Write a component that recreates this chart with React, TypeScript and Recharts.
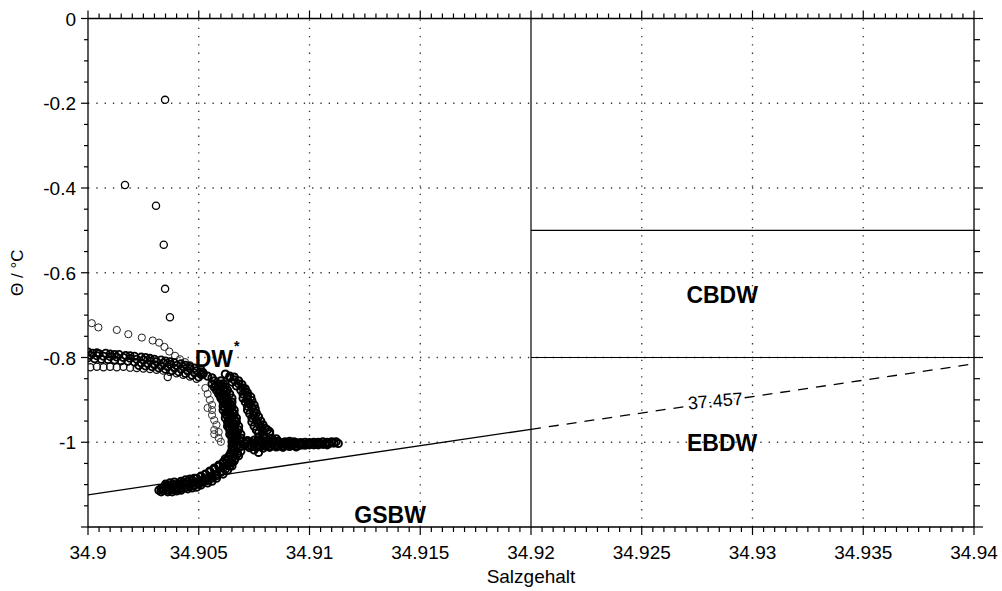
import { ScatterChart, Scatter, XAxis, YAxis, ReferenceLine } from 'recharts';

const FONT = '"Liberation Sans", Arial, Helvetica, sans-serif';

// axis ranges and ticks
const salDomain = [34.9, 34.94];
const thetaDomain = [-1.2, 0];
const salMinorStep = 0.0005;
const thetaMinorStep = 0.05;
const salGrid = [34.905, 34.91, 34.915, 34.925, 34.93, 34.935];
const thetaGrid = [-0.2, -0.4, -0.6, -0.8, -1.0];

// water mass boundaries
const boundaryX = 34.92;
const cbdwTop = -0.5;
const cbdwBottom = -0.8;
const isopycnalSolid = [
  [34.9, -1.124],
  [34.92, -0.9695],
];
const isopycnalDashed = [
  [34.92, -0.9695],
  [34.94, -0.815],
];

// scattered single profiles (upper left)
const isolatedPoints = [
  [34.90348, -0.192], [34.90167, -0.393], [34.90307, -0.442],
  [34.90342, -0.534], [34.90348, -0.638], [34.9037, -0.705],
];

const upperTrail = [
  [34.90017, -0.719], [34.90047, -0.729], [34.9013, -0.735], [34.90182, -0.745],
  [34.90243, -0.753], [34.90292, -0.76], [34.90321, -0.765], [34.90345, -0.775],
  [34.90367, -0.786], [34.90393, -0.796], [34.90415, -0.804], [34.90438, -0.811],
  [34.9046, -0.818],
];

// dense band around -0.8 degC
const bandRows = [
  [34.9, -0.787], [34.9002, -0.79], [34.9004, -0.789], [34.9005, -0.791], [34.9008, -0.79],
  [34.901, -0.792], [34.9012, -0.793], [34.9014, -0.793], [34.9017, -0.795], [34.9019, -0.796],
  [34.9021, -0.797], [34.9024, -0.799], [34.9026, -0.8], [34.9028, -0.802], [34.903, -0.804],
  [34.9033, -0.806], [34.9035, -0.808], [34.9037, -0.81], [34.9039, -0.812], [34.9042, -0.815],
  [34.9044, -0.818], [34.9046, -0.821], [34.9048, -0.825], [34.9051, -0.829],
  [34.9001, -0.795], [34.9004, -0.796], [34.9007, -0.797], [34.901, -0.798], [34.9013, -0.799],
  [34.9016, -0.8], [34.9019, -0.802], [34.9022, -0.804], [34.9025, -0.806], [34.9028, -0.808],
  [34.9031, -0.81], [34.9034, -0.813], [34.9037, -0.816], [34.904, -0.819], [34.9043, -0.822],
  [34.9046, -0.826], [34.9049, -0.831], [34.9052, -0.836],
  [34.9, -0.801], [34.9003, -0.803], [34.9006, -0.804], [34.9009, -0.805], [34.9012, -0.806],
  [34.9015, -0.808], [34.9018, -0.809], [34.9021, -0.811], [34.9024, -0.813], [34.9027, -0.815],
  [34.903, -0.817], [34.9033, -0.82], [34.9036, -0.822], [34.9039, -0.825], [34.9042, -0.828],
  [34.9045, -0.832], [34.9048, -0.836], [34.9051, -0.84],
  [34.9023, -0.819], [34.9026, -0.82], [34.9029, -0.822], [34.9032, -0.825], [34.9035, -0.828],
  [34.9038, -0.831], [34.9041, -0.834], [34.9044, -0.838], [34.9047, -0.842], [34.905, -0.846],
];

const bandLower = [
  [34.9001, -0.823], [34.9004, -0.822], [34.9007, -0.823], [34.901, -0.822], [34.9013, -0.823],
  [34.9016, -0.822], [34.9019, -0.824], [34.9022, -0.825], [34.9025, -0.826], [34.9028, -0.827],
  [34.9031, -0.829], [34.9034, -0.831], [34.9037, -0.834], [34.904, -0.837], [34.9043, -0.841],
  [34.9046, -0.845], [34.9049, -0.85], [34.9036, -0.846],
];

// main arm bending down to the GSBW line
const armA = [
  [34.9051, -0.834], [34.9052, -0.839], [34.9054, -0.844], [34.9056, -0.848], [34.9057, -0.855],
  [34.9059, -0.862], [34.906, -0.87], [34.9061, -0.877], [34.9061, -0.886], [34.9062, -0.896],
  [34.9063, -0.905], [34.9063, -0.915], [34.9064, -0.924], [34.9064, -0.933], [34.9065, -0.943],
  [34.9065, -0.952], [34.9065, -0.962], [34.9066, -0.971], [34.9066, -0.981], [34.9067, -0.99],
  [34.9067, -0.999], [34.9067, -1.009], [34.9066, -1.018], [34.9066, -1.028], [34.9065, -1.037],
  [34.9064, -1.047], [34.9063, -1.054], [34.9061, -1.061], [34.906, -1.068], [34.9058, -1.075],
  [34.9056, -1.08], [34.9054, -1.085], [34.9052, -1.089], [34.905, -1.094], [34.9048, -1.096],
  [34.9046, -1.099], [34.9044, -1.101], [34.9042, -1.104], [34.904, -1.106], [34.9037, -1.106],
  [34.9036, -1.108], [34.9034, -1.108], [34.9033, -1.11],
  [34.9056, -0.862], [34.9057, -0.87], [34.9058, -0.877], [34.9059, -0.886], [34.906, -0.896],
  [34.9061, -0.905], [34.9061, -0.915], [34.9061, -0.924], [34.9062, -0.933], [34.9062, -0.943],
  [34.9063, -0.952], [34.9063, -0.962], [34.9064, -0.971], [34.9064, -0.981], [34.9065, -0.99],
  [34.9065, -0.999], [34.9065, -1.009],
  [34.90578, -0.866], [34.90588, -0.874], [34.90598, -0.881], [34.90598, -0.891], [34.90608, -0.9],
  [34.90618, -0.91], [34.90618, -0.919], [34.90628, -0.929], [34.90628, -0.938], [34.90638, -0.947],
  [34.90638, -0.957], [34.90638, -0.966], [34.90648, -0.976], [34.90648, -0.985], [34.90658, -0.994],
  [34.90658, -1.004], [34.90658, -1.013],
  [34.90602, -0.866], [34.90612, -0.874], [34.90622, -0.881], [34.90622, -0.891], [34.90632, -0.9],
  [34.90642, -0.91], [34.90642, -0.919], [34.90652, -0.929], [34.90652, -0.938], [34.90662, -0.947],
  [34.90662, -0.957], [34.90662, -0.966], [34.90672, -0.976], [34.90672, -0.985], [34.90682, -0.994],
  [34.90682, -1.004], [34.90682, -1.013],
  [34.906, -0.855], [34.9061, -0.862], [34.9062, -0.87], [34.9063, -0.877], [34.9064, -0.886],
  [34.9065, -0.896], [34.9065, -0.905], [34.9065, -0.915], [34.9066, -0.924], [34.9066, -0.933],
  [34.9067, -0.943], [34.9067, -0.952], [34.9068, -0.962], [34.9068, -0.971], [34.9069, -0.981],
  [34.9069, -0.99], [34.9069, -0.999], [34.9069, -1.009], [34.9069, -1.021],
  [34.9065, -1.018], [34.9064, -1.03], [34.9062, -1.039], [34.9061, -1.047], [34.9059, -1.054],
  [34.9057, -1.061], [34.9055, -1.068], [34.9053, -1.075], [34.9051, -1.08], [34.9048, -1.085],
  [34.9046, -1.087], [34.9044, -1.089], [34.9042, -1.092], [34.9039, -1.094], [34.9037, -1.096],
  [34.9035, -1.099],
  [34.90645, -1.025], [34.90635, -1.034], [34.90625, -1.043], [34.9061, -1.05], [34.9059, -1.057],
  [34.9057, -1.064], [34.9055, -1.07], [34.9053, -1.076], [34.9051, -1.081], [34.9049, -1.085],
  [34.9047, -1.089], [34.9045, -1.092], [34.9043, -1.095], [34.9041, -1.098], [34.9039, -1.1],
  [34.9037, -1.101], [34.9035, -1.103],
  [34.90675, -1.027], [34.90665, -1.038], [34.9065, -1.048], [34.9064, -1.056], [34.9062, -1.064],
  [34.906, -1.071], [34.9058, -1.079], [34.9056, -1.085], [34.9054, -1.09], [34.9052, -1.094],
  [34.905, -1.099], [34.9048, -1.102], [34.9046, -1.105], [34.9044, -1.107], [34.9042, -1.109],
  [34.904, -1.111], [34.9038, -1.112], [34.9036, -1.113], [34.9034, -1.114],
  [34.9068, -1.032], [34.9066, -1.044], [34.9065, -1.056], [34.9063, -1.066], [34.9061, -1.075],
  [34.9058, -1.085], [34.9056, -1.092], [34.9054, -1.096], [34.9051, -1.101], [34.9049, -1.106],
  [34.9047, -1.108], [34.9045, -1.11], [34.9042, -1.113], [34.904, -1.115], [34.9038, -1.117],
  [34.9036, -1.117], [34.9033, -1.117], [34.9032, -1.113],
];

// thinner arm on the right
const armC = [
  [34.9062, -0.839], [34.9064, -0.848], [34.9065, -0.858], [34.9067, -0.867], [34.9069, -0.877],
  [34.907, -0.886], [34.907, -0.896], [34.9071, -0.905], [34.9072, -0.915], [34.9072, -0.924],
  [34.9073, -0.933], [34.9074, -0.943], [34.9074, -0.952], [34.9075, -0.962], [34.9076, -0.971],
  [34.9077, -0.978], [34.9079, -0.985], [34.908, -0.99],
  [34.9064, -0.844], [34.9066, -0.853], [34.9068, -0.862], [34.907, -0.872], [34.9071, -0.881],
  [34.9072, -0.891], [34.9072, -0.9], [34.9073, -0.91], [34.9074, -0.919], [34.9075, -0.929],
  [34.9075, -0.938], [34.9076, -0.948], [34.9077, -0.957], [34.9078, -0.966], [34.9079, -0.974],
  [34.9066, -0.846], [34.9068, -0.855], [34.90695, -0.864], [34.9071, -0.874], [34.9072, -0.883],
  [34.90735, -0.893], [34.9074, -0.902], [34.9075, -0.912], [34.90755, -0.921], [34.9076, -0.931],
  [34.9077, -0.94], [34.9078, -0.95], [34.9079, -0.959], [34.908, -0.967], [34.9082, -0.975],
  [34.9081, -0.971], [34.9082, -0.98],
];

// light profile left of the main arm
const armD = [
  [34.9053, -0.872], [34.9054, -0.886], [34.9055, -0.9], [34.9056, -0.912], [34.9056, -0.924],
  [34.9056, -0.936], [34.9057, -0.948], [34.9058, -0.959], [34.9057, -0.971], [34.9057, -0.981],
  [34.9059, -0.99], [34.906, -0.999], [34.9054, -0.919], [34.9059, -0.976],
];

// horizontal tail near -1 degC
const tailPoints = [
  [34.9072, -0.996], [34.9075, -0.995], [34.9077, -0.997], [34.9079, -0.996], [34.9082, -0.998],
  [34.9084, -0.997], [34.9086, -0.998], [34.9089, -0.999], [34.9091, -0.998], [34.9093, -0.999],
  [34.9072, -1.0], [34.9074, -1.001], [34.9076, -1.0], [34.9078, -1.001], [34.908, -1.0],
  [34.9082, -1.002], [34.9084, -1.001], [34.9086, -1.0], [34.9088, -1.002], [34.909, -1.001],
  [34.9092, -1.002], [34.9094, -1.001], [34.9096, -1.001], [34.9098, -1.0], [34.91, -1.001],
  [34.9102, -1.0], [34.9104, -1.0], [34.9106, -0.999], [34.9108, -1.0], [34.911, -0.999],
  [34.9112, -0.999],
  [34.9071, -1.004], [34.9073, -1.006], [34.9075, -1.005], [34.9077, -1.007], [34.9079, -1.005],
  [34.9081, -1.006], [34.9083, -1.004], [34.9085, -1.006], [34.9087, -1.005], [34.9089, -1.004],
  [34.9091, -1.006], [34.9093, -1.005], [34.9095, -1.004], [34.9097, -1.005], [34.9099, -1.004],
  [34.9101, -1.003], [34.9103, -1.004], [34.9105, -1.003], [34.9107, -1.004], [34.9109, -1.003],
  [34.9111, -1.002], [34.9113, -1.003],
  [34.9072, -1.009], [34.9074, -1.01], [34.9076, -1.009], [34.9078, -1.01], [34.908, -1.009],
  [34.9082, -1.009], [34.9084, -1.008], [34.9086, -1.009], [34.9088, -1.008], [34.909, -1.008],
  [34.9092, -1.007], [34.9094, -1.008], [34.9096, -1.007], [34.9098, -1.007], [34.91, -1.006],
  [34.9102, -1.006], [34.9104, -1.006], [34.9106, -1.005], [34.9108, -1.006],
  [34.9073, -1.013], [34.9076, -1.012], [34.9079, -1.014], [34.9082, -1.012], [34.9085, -1.011],
  [34.9088, -1.012], [34.9091, -1.01], [34.9094, -1.011],
  [34.9077, -0.989], [34.9079, -0.987], [34.9083, -0.991], [34.9085, -0.992],
  [34.9075, -1.018], [34.9077, -1.024],
];

const labels = [
  { sal: 34.92863, theta: -0.6525, text: 'CBDW' },
  { sal: 34.92863, theta: -1.0018, text: 'EBDW' },
  { sal: 34.91364, theta: -1.1717, text: 'GSBW' },
  { sal: 34.90583, theta: -0.8035, text: 'DW', sup: '*' },
];
const contourLabel = [{ sal: 34.92832, theta: -0.9027, text: '37.457' }];

const toRows = (pts: number[][]) => pts.map(([sal, theta]) => ({ sal, theta }));
const toSeg = (pts: number[][]) => pts.map(([x, y]) => ({ x, y }));

const salTicks: number[] = [];
for (let i = 0; i <= 80; i++) salTicks.push(Number((salDomain[0] + i * salMinorStep).toFixed(4)));
const thetaTicks: number[] = [];
for (let i = 0; i <= 24; i++) thetaTicks.push(Number((thetaDomain[0] + i * thetaMinorStep).toFixed(2)));

const near = (a: number, b: number) => Math.abs(a - b) < 1e-6;
const isMajorSal = (v: number) => near(v * 200, Math.round(v * 200));
const isMajorTheta = (v: number) => near(v * 5, Math.round(v * 5));
const fmtSal = (v: number) => String(Number(v.toFixed(3)));
const fmtTheta = (v: number) => (near(v, 0) ? '0' : String(Number(v.toFixed(1))));

function BottomTick(props: any) {
  const { x, y, payload } = props;
  const major = isMajorSal(payload.value);
  return (
    <g>
      <line x1={x} y1={y} x2={x} y2={y + (major ? 8 : 5)} stroke="#000" strokeWidth={1.2} />
      {major && (
        <text x={x} y={y + 32} textAnchor="middle" fontSize={19} fontFamily={FONT} fill="#000">
          {fmtSal(payload.value)}
        </text>
      )}
    </g>
  );
}

function TopTick(props: any) {
  const { x, y, payload } = props;
  const major = isMajorSal(payload.value);
  return <line x1={x} y1={y} x2={x} y2={y - (major ? 8 : 5)} stroke="#000" strokeWidth={1.2} />;
}

function LeftTick(props: any) {
  const { x, y, payload } = props;
  const v = payload.value;
  const major = isMajorTheta(v);
  return (
    <g>
      <line x1={x} y1={y} x2={x - (major ? 7 : 4)} y2={y} stroke="#000" strokeWidth={1.2} />
      {major && !near(v, -1.2) && (
        <text x={x - 12} y={y + 7} textAnchor="end" fontSize={19} fontFamily={FONT} fill="#000">
          {fmtTheta(v)}
        </text>
      )}
    </g>
  );
}

function RightTick(props: any) {
  const { x, y, payload } = props;
  const major = isMajorTheta(payload.value);
  return <line x1={x} y1={y} x2={x + (major ? 9 : 6)} y2={y} stroke="#000" strokeWidth={1.2} />;
}

function XTitle(props: any) {
  const vb = props.viewBox;
  return (
    <text x={vb.x + vb.width / 2} y={583} textAnchor="middle" fontSize={19} fontFamily={FONT} fill="#000">
      Salzgehalt
    </text>
  );
}

function YTitle(props: any) {
  const vb = props.viewBox;
  const cy = vb.y + vb.height / 2;
  return (
    <text
      x={17}
      y={cy}
      transform={`rotate(-90 17 ${cy})`}
      textAnchor="middle"
      dominantBaseline="central"
      fontSize={17}
      fontFamily={FONT}
      fill="#000"
    >
      Θ / °C
    </text>
  );
}

const circle = (stroke: string, width: number) => (props: any) =>
  <circle cx={props.cx} cy={props.cy} r={3.6} fill="none" stroke={stroke} strokeWidth={width} />;

function WaterMassLabel(props: any) {
  const { cx, cy, payload } = props;
  return (
    <text x={cx} y={cy} textAnchor="middle" dominantBaseline="central" fontSize={23} fontWeight="bold" fontFamily={FONT} fill="#000">
      {payload.text}
      {payload.sup && (
        <tspan dx={1} dy={-13} fontSize={14}>
          {payload.sup}
        </tspan>
      )}
    </text>
  );
}

function ContourLabel(props: any) {
  const { cx, cy, payload } = props;
  return (
    <text
      x={cx}
      y={cy}
      transform={`rotate(-5 ${cx} ${cy})`}
      textAnchor="middle"
      dominantBaseline="central"
      fontSize={18}
      fontFamily={FONT}
      fill="#000"
      stroke="#fff"
      strokeWidth={5}
      paintOrder="stroke"
    >
      {payload.text}
    </text>
  );
}

export default function App() {
  const axisLine = { stroke: '#000', strokeWidth: 1.3 };
  return (
    <div style={{ position: 'absolute', left: 0, top: 0, background: '#fff' }}>
      <ScatterChart width={1002} height={591} margin={{ top: 0, right: 0, bottom: 0, left: 0 }}>
        <XAxis
          dataKey="sal"
          type="number"
          domain={salDomain}
          allowDataOverflow
          ticks={salTicks}
          interval={0}
          tickSize={0}
          tickMargin={0}
          tickLine={false}
          axisLine={axisLine}
          tick={<BottomTick />}
          height={64}
          label={<XTitle />}
        />
        <XAxis
          xAxisId="top"
          orientation="top"
          dataKey="sal"
          type="number"
          domain={salDomain}
          allowDataOverflow
          ticks={salTicks}
          interval={0}
          tickSize={0}
          tickMargin={0}
          tickLine={false}
          axisLine={axisLine}
          tick={<TopTick />}
          height={18.5}
        />
        <YAxis
          dataKey="theta"
          type="number"
          domain={thetaDomain}
          allowDataOverflow
          ticks={thetaTicks}
          interval={0}
          tickSize={0}
          tickMargin={0}
          tickLine={false}
          axisLine={axisLine}
          tick={<LeftTick />}
          width={88}
          label={<YTitle />}
        />
        <YAxis
          yAxisId="right"
          orientation="right"
          dataKey="theta"
          type="number"
          domain={thetaDomain}
          allowDataOverflow
          ticks={thetaTicks}
          interval={0}
          tickSize={0}
          tickMargin={0}
          tickLine={false}
          axisLine={axisLine}
          tick={<RightTick />}
          width={28}
        />

        {salGrid.map((v) => (
          <ReferenceLine key={`gx${v}`} x={v} stroke="#333" strokeWidth={1.3} strokeDasharray="1.3 7" />
        ))}
        {thetaGrid.map((v) => (
          <ReferenceLine key={`gy${v}`} y={v} stroke="#333" strokeWidth={1.3} strokeDasharray="1.3 7" />
        ))}

        <ReferenceLine x={boundaryX} stroke="#000" strokeWidth={1.2} />
        <ReferenceLine
          segment={toSeg([[boundaryX, cbdwTop], [salDomain[1], cbdwTop]])}
          stroke="#000"
          strokeWidth={1.2}
          ifOverflow="visible"
        />
        <ReferenceLine
          segment={toSeg([[boundaryX, cbdwBottom], [salDomain[1], cbdwBottom]])}
          stroke="#000"
          strokeWidth={1.2}
          ifOverflow="visible"
        />
        <ReferenceLine segment={toSeg(isopycnalSolid)} stroke="#000" strokeWidth={1.3} ifOverflow="visible" />
        <ReferenceLine
          segment={toSeg(isopycnalDashed)}
          stroke="#000"
          strokeWidth={1.3}
          strokeDasharray="10 8"
          ifOverflow="visible"
        />

        <Scatter data={toRows(isolatedPoints)} shape={circle('#000', 1.3)} isAnimationActive={false} />
        <Scatter data={toRows(upperTrail)} shape={circle('#222', 1)} isAnimationActive={false} />
        <Scatter data={toRows(armD)} shape={circle('#333', 1)} isAnimationActive={false} />
        <Scatter data={toRows(bandLower)} shape={circle('#111', 1.2)} isAnimationActive={false} />
        <Scatter data={toRows(bandRows)} shape={circle('#000', 1.8)} isAnimationActive={false} />
        <Scatter data={toRows(armA)} shape={circle('#000', 2)} isAnimationActive={false} />
        <Scatter data={toRows(armC)} shape={circle('#000', 2)} isAnimationActive={false} />
        <Scatter data={toRows(tailPoints)} shape={circle('#000', 2)} isAnimationActive={false} />

        <Scatter data={labels} shape={<WaterMassLabel />} isAnimationActive={false} />
        <Scatter data={contourLabel} shape={<ContourLabel />} isAnimationActive={false} />
      </ScatterChart>
    </div>
  );
}
